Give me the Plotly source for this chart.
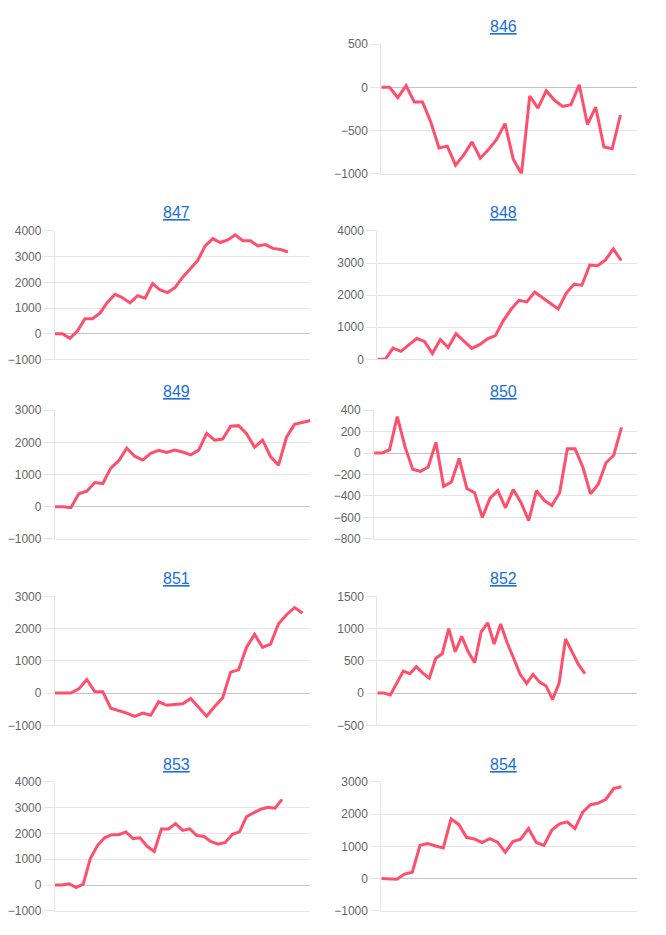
import plotly.graph_objs as go

# panel names (the top-left slot is empty)
names = ['846', '847', '848', '849', '850', '851', '852', '853', '854']

v846 = [0, 0, -120, 20, -170, -170, -400, -700, -680, -900, -780, -630, -820, -720, -600,
        -420, -830, -1000, -100, -240, -40, -150, -220, -200, 30, -430, -230, -690, -710, -320]
v847 = [0, 0, -180, 100, 580, 580, 800, 1230, 1530, 1400, 1200, 1480, 1380, 1950, 1700, 1600,
        1800, 2200, 2520, 2850, 3420, 3700, 3550, 3650, 3850, 3620, 3620, 3420, 3470, 3320, 3280, 3180]
v848 = [0, 0, 350, 250, 450, 650, 560, 180, 620, 370, 800, 560, 340, 460, 640, 740, 1200, 1560,
        1840, 1790, 2100, 1920, 1740, 1570, 2060, 2340, 2310, 2940, 2920, 3100, 3440, 3080]
v849 = [0, 0, -30, 400, 480, 750, 720, 1200, 1430, 1820, 1570, 1450, 1660, 1750, 1690, 1760, 1700,
        1610, 1760, 2280, 2070, 2100, 2500, 2520, 2270, 1850, 2070, 1560, 1290, 2160, 2560, 2620, 2680]
v850 = [0, 0, 30, 340, 60, -150, -170, -130, 100, -310, -270, -50, -330, -370, -600, -420, -350,
        -510, -340, -460, -630, -350, -440, -490, -370, 40, 40, -130, -380, -290, -90, -20, 240]
v851 = [0, 0, 0, 130, 420, 40, 40, -470, -540, -620, -720, -620, -690, -270, -380, -360, -330,
        -170, -460, -720, -420, -150, 650, 720, 1420, 1820, 1420, 1520, 2150, 2430, 2650, 2480]
v852 = [0, 0, -30, 150, 340, 300, 410, 310, 230, 540, 610, 1000, 640, 880, 640, 470, 950, 1090,
        760, 1070, 780, 540, 290, 150, 290, 170, 110, -100, 150, 840, 640, 440, 300]
v853 = [0, 0, 50, -100, 40, 1030, 1530, 1830, 1950, 1950, 2060, 1800, 1830, 1500, 1300, 2170, 2170,
        2380, 2120, 2180, 1920, 1880, 1680, 1580, 1650, 1970, 2060, 2650, 2800, 2940, 3010, 2980, 3320]
v854 = [0, 0, -20, 140, 200, 1030, 1090, 1010, 950, 1850, 1680, 1280, 1230, 1120, 1240, 1130, 820,
        1150, 1220, 1550, 1120, 1030, 1500, 1700, 1760, 1550, 2060, 2290, 2340, 2460, 2790, 2850]
values = [v846, v847, v848, v849, v850, v851, v852, v853, v854]

# number of x labels on each chart (lines can stop before the end)
n_labels = [32, 35, 34, 33, 35, 33, 41, 37, 34]

# y axis ranges and tick step
y_min = [-1000, -1000, 0, -1000, -800, -1000, -500, -1000, -1000]
y_max = [500, 4000, 4000, 3000, 400, 3000, 1500, 4000, 3000]
y_step = [500, 1000, 1000, 1000, 200, 1000, 500, 1000, 1000]

# the page body has an 8px margin, so the figure is a bit smaller than the window
PAD = 8
W, H = 666 - 2 * PAD, 935 - 2 * PAD
# window pixel boxes of each plot: left, right, top, bottom, title y
boxes = [
    (378.3, 636.7, 37.5, 169.3, 20),
    (48.3, 306.7, 227.3, 357.7, 209),
    (374.3, 636.7, 227.3, 357.7, 209),
    (48.3, 306.7, 409.3, 540, 390),
    (371, 636.7, 409.3, 540, 390),
    (48.3, 306.7, 598.3, 729.3, 580),
    (374.3, 636.7, 598.3, 729.3, 580),
    (48.3, 306.7, 786.7, 917.7, 769),
    (378.3, 636.7, 786.7, 917.7, 769),
]


def px(v):
    return (v - PAD) / W


def py(v):
    return 1 - (v - PAD) / H


line_color = '#ff4f6d'
grid = '#e6e6e6'

fig = go.Figure()
layout = dict(
    width=W, height=H,
    margin=dict(l=0, r=0, t=0, b=0),
    paper_bgcolor='white', plot_bgcolor='white',
    showlegend=False,
    font=dict(family='Liberation Sans, Arial, sans-serif', color='#666666', size=12),
)
annotations = []

for i, name in enumerate(names):
    k = '' if i == 0 else str(i + 1)
    left, right, top, bottom, ty = boxes[i]
    vals = values[i]
    fig.add_trace(go.Scatter(
        x=list(range(len(vals))), y=vals,
        mode='lines', line=dict(color=line_color, width=3),
        xaxis='x' + k, yaxis='y' + k, hoverinfo='y'
    ))
    layout['xaxis' + k] = dict(
        domain=[px(left), px(right)], anchor='y' + k,
        range=[0, n_labels[i] - 1],
        showticklabels=False, showgrid=False, zeroline=False,
        showline=True, linecolor=grid, linewidth=1,
    )
    layout['yaxis' + k] = dict(
        domain=[py(bottom), py(top)], anchor='x' + k,
        range=[y_min[i], y_max[i]], dtick=y_step[i], tick0=0,
        showgrid=True, gridcolor=grid, gridwidth=1,
        zeroline=True, zerolinecolor='#c4c4c4', zerolinewidth=1,
        showline=True, linecolor=grid, linewidth=1,
        ticks='outside', ticklen=10, tickcolor=grid, tickwidth=1,
        tickfont=dict(size=12, color='#666666'),
    )
    # chart title, drawn as an underlined link-style label
    cx = 171.7 if left < 200 else 501.7
    annotations.append(dict(
        text='<u>' + name + '</u>', x=px(cx), y=py(ty),
        xref='paper', yref='paper', xanchor='center', yanchor='middle',
        showarrow=False, font=dict(size=16, color='#1a6fd8'),
    ))

layout['annotations'] = annotations
fig.update_layout(**layout)

fig.write_html('out.html')
